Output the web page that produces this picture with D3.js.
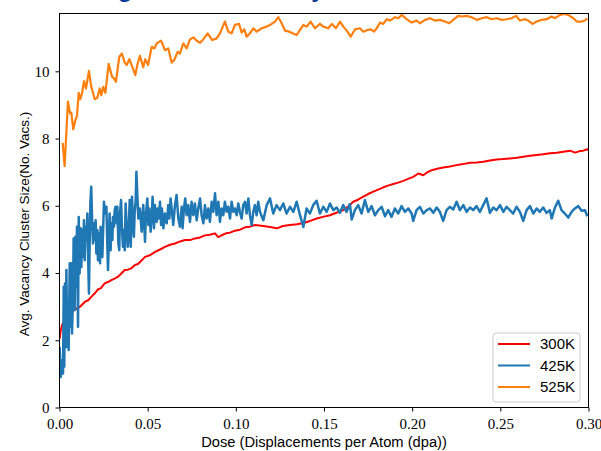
<!DOCTYPE html>
<html>
<head>
<meta charset="utf-8">
<script src="https://cdn.jsdelivr.net/npm/d3@7"></script>
<style>
  body { margin: 0; background: #fff; }
  svg { display: block; }
</style>
</head>
<body>
<svg id="chart" width="601" height="451"></svg>
<script>
// ---- data ----
const seriesNames = ["300K", "425K", "525K"];
const seriesColors = ["#ff0000", "#1f77b4", "#ff7f0e"];
const xTicks = [0, 0.05, 0.1, 0.15, 0.2, 0.25, 0.3];
const yTicks = [0, 2, 4, 6, 8, 10];

const redDose = [0.0001,0.0006,0.0014,0.0026,0.0043,0.006,0.0082,0.0115,0.0143,0.0163,0.018,0.0201,0.0218,0.0235,0.0256,0.0277,0.0294,0.0315,0.0332,0.0349,0.037,0.0388,0.0407,0.0428,0.0445,0.0462,0.0485,0.0513,0.0542,0.057,0.0598,0.0627,0.0655,0.0684,0.0712,0.074,0.0768,0.0797,0.0825,0.0853,0.0882,0.09,0.0922,0.0944,0.0967,0.0995,0.1024,0.1052,0.108,0.1109,0.1156,0.1194,0.1232,0.1267,0.1307,0.1347,0.1383,0.1421,0.1459,0.1494,0.1534,0.1574,0.161,0.1636,0.1666,0.1693,0.1723,0.175,0.178,0.1807,0.1837,0.1863,0.1893,0.192,0.195,0.1977,0.2006,0.2035,0.2063,0.2084,0.2111,0.2141,0.2176,0.2214,0.2252,0.2288,0.2328,0.2367,0.2403,0.2441,0.2479,0.2515,0.2555,0.2594,0.263,0.2668,0.2706,0.2742,0.2782,0.2821,0.2857,0.2895,0.2924,0.2946,0.297,0.2993,0.3];
const redSize = [2.05,2.25,2.45,2.55,2.7,2.8,2.9,2.99,3.14,3.19,3.29,3.4,3.51,3.55,3.69,3.74,3.79,3.84,3.89,3.98,4.09,4.1,4.14,4.24,4.27,4.36,4.48,4.53,4.63,4.7,4.78,4.84,4.88,4.94,4.98,4.98,5.03,5.06,5.12,5.14,5.18,5.07,5.13,5.18,5.2,5.26,5.29,5.36,5.38,5.43,5.4,5.37,5.33,5.4,5.43,5.45,5.49,5.55,5.62,5.67,5.72,5.8,5.87,5.98,6.12,6.18,6.27,6.35,6.42,6.48,6.55,6.6,6.65,6.69,6.74,6.8,6.86,6.96,6.91,6.99,7.06,7.1,7.14,7.17,7.21,7.24,7.28,7.29,7.31,7.35,7.38,7.39,7.41,7.43,7.46,7.49,7.51,7.53,7.56,7.58,7.61,7.64,7.58,7.62,7.64,7.68,7.66];

const blueDose = [0.0001,0.0007,0.0014,0.002,0.0024,0.0027,0.0031,0.0035,0.0039,0.0044,0.0048,0.0052,0.0058,0.0063,0.0067,0.0071,0.0077,0.008,0.0086,0.009,0.0095,0.0099,0.0105,0.0109,0.0114,0.012,0.0124,0.0128,0.0133,0.0139,0.0143,0.0148,0.0154,0.0158,0.0163,0.0167,0.0171,0.0175,0.018,0.0186,0.019,0.0196,0.0199,0.0205,0.0209,0.0215,0.0218,0.0224,0.023,0.0233,0.0239,0.0243,0.0249,0.0252,0.0258,0.0266,0.0271,0.0275,0.0281,0.0284,0.029,0.0294,0.03,0.0303,0.0309,0.0313,0.0318,0.0324,0.0328,0.0334,0.0339,0.0343,0.0349,0.0354,0.036,0.0366,0.037,0.0375,0.0381,0.0387,0.0392,0.0398,0.0404,0.0407,0.0411,0.0417,0.0422,0.0426,0.0432,0.0436,
  0.0447,0.0456,0.0466,0.0475,0.0485,0.049,0.0498,0.0504,0.0509,0.0517,0.0523,0.0528,0.0536,0.0541,0.0551,0.0557,0.0562,0.057,0.0576,0.0581,0.0589,0.0598,0.0608,0.0617,0.0623,0.063,0.0638,0.0645,0.0655,0.0664,0.0674,0.0683,0.0693,0.0698,0.0706,0.0713,0.0721,0.073,0.074,0.0749,0.0759,0.0768,0.0778,0.0787,0.0797,0.0806,0.0816,0.0825,0.0834,0.0844,0.0853,0.0863,0.0872,0.0882,0.0891,0.0901,0.091,0.0919,0.0929,0.0938,0.0948,0.0957,0.0967,0.0976,0.0986,0.0995,0.1005,0.1014,0.1023,0.1033,0.1042,0.1052,0.1061,0.1071,0.108,0.109,0.1099,0.1108,0.1118,0.1127,0.1137,
  0.1156,0.1175,0.1194,0.1212,0.1231,0.125,0.1269,0.1288,0.1307,0.1326,0.1345,0.1364,0.1383,0.1401,0.142,0.1439,0.1458,0.1477,0.1496,0.1515,0.1534,0.1553,0.1572,0.159,0.1609,0.1628,0.1647,0.1657,0.1675,0.1694,0.1713,0.1732,0.1751,0.177,0.1789,0.1808,0.1827,0.1846,0.1864,0.1883,0.1902,0.1921,0.194,0.1959,0.1978,0.1997,0.2006,0.2025,0.2044,0.2063,0.2082,0.2101,0.212,0.2139,0.2157,0.2176,0.2195,0.2214,0.2233,0.2252,0.2271,0.229,0.2309,0.2328,0.2346,0.2365,0.2384,0.2403,0.2422,0.2441,0.246,0.2479,0.2498,0.2517,0.2535,0.2554,0.2573,0.2592,0.2611,0.263,0.2649,0.2668,0.2687,0.2706,0.2724,0.2743,0.2762,0.2781,0.2791,0.281,0.2828,0.2847,0.2866,0.2885,0.2904,0.2923,0.2942,0.2961,0.298,0.2993];
const blueSize = [1.8,0.91,1.41,1.01,3.59,1.21,3.69,1.8,4.09,1.8,2.9,1.71,4.29,2.4,4.29,2.2,3.39,5.03,2.9,5.08,3.59,5.38,2.4,5.67,3.99,5.33,4.18,5.28,4.48,5.57,4.38,5.38,4.98,5.77,4.29,3.39,4.88,6.07,6.57,5.38,4.88,5.48,4.98,5.57,4.58,5.28,4.38,5.18,4.29,5.38,4.88,4.48,5.57,6.12,5.77,5.97,4.88,4.09,5.18,5.77,4.68,5.48,4.98,5.67,5.38,5.87,5.97,5.48,5.97,4.88,4.68,5.77,6.17,5.38,4.78,5.28,4.68,6.07,5.38,4.78,5.18,6.17,4.78,5.38,6.27,5.57,5.08,5.77,6.17,7.01,
  5.62,5.92,5.23,6.02,4.93,5.72,6.22,5.43,5.92,5.23,5.72,6.27,5.33,6.02,5.52,5.92,5.62,6.12,5.43,5.92,5.33,5.77,5.48,6.02,5.62,6.22,5.82,5.43,6.02,6.32,5.62,5.38,5.97,5.33,5.92,6.22,5.72,6.02,5.52,6.12,5.72,6.07,5.57,5.92,6.22,5.72,5.48,6.02,5.62,5.92,5.52,6.12,5.82,6.37,5.72,6.12,5.52,5.92,5.72,6.12,5.82,5.97,5.62,6.12,5.82,5.92,5.72,6.07,5.82,5.62,6.02,6.12,5.77,6.22,5.72,5.43,5.82,6.02,5.72,6.12,5.82,
  5.57,6.02,6.22,5.77,6.02,5.87,6.07,5.77,5.97,5.82,6.12,5.72,5.37,5.92,5.77,6.02,6.15,5.77,5.97,5.82,6.07,5.87,5.95,5.79,6.02,5.82,6.05,5.59,5.87,6.02,5.77,6.17,5.82,5.99,5.72,5.87,5.97,5.69,5.87,5.67,5.92,5.77,5.99,5.82,5.92,5.77,5.55,5.87,5.97,5.77,5.87,5.92,5.79,5.95,5.82,5.55,5.87,5.97,5.89,6.12,5.87,6.02,5.82,5.95,5.87,5.99,5.82,6.02,6.22,5.79,5.95,5.87,6.02,5.82,5.97,5.87,5.77,5.97,5.82,5.55,5.87,5.99,5.77,5.92,5.82,5.95,5.79,5.87,5.62,5.95,6.15,5.87,5.77,5.65,5.82,5.92,5.99,5.85,5.87,5.69];

const orangeDose = [0.0018,0.0029,0.0048,0.006,0.0067,0.0078,0.009,0.0099,0.0109,0.0118,0.0128,0.0139,0.015,0.0167,0.018,0.02,0.0214,0.0228,0.0237,0.0248,0.026,0.0279,0.0298,0.0309,0.032,0.0339,0.0354,0.037,0.0381,0.0396,0.0411,0.043,0.0441,0.0456,0.0475,0.0486,0.0502,0.0523,0.0538,0.0551,0.0576,0.0583,0.0598,0.0617,0.0636,0.0651,0.067,0.0683,0.0702,0.0721,0.074,0.0759,0.0778,0.0797,0.0815,0.084,0.0853,0.0866,0.0891,0.091,0.0938,0.0957,0.0976,0.0995,0.1018,0.1033,0.1048,0.1061,0.108,0.1099,
  0.1118,0.1147,0.1175,0.1203,0.1222,0.1241,0.126,0.1279,0.1303,0.1322,0.1345,0.1364,0.1383,0.1402,0.1424,0.1449,0.1477,0.1496,0.1524,0.1544,0.1568,0.1591,0.161,0.1629,0.1651,0.1676,0.1704,0.1723,0.1746,0.1765,0.1784,0.1799,0.1818,0.1836,0.1856,0.1874,0.1903,0.1921,0.1941,0.1969,0.1997,0.2026,0.2044,0.2073,0.2101,0.2129,0.2158,0.2186,0.221,0.2233,0.2261,0.2281,0.2309,0.2337,0.2366,0.2394,0.2423,0.2451,0.2479,0.2508,0.2536,0.2564,0.2589,0.2611,0.264,0.2658,0.2683,0.2706,0.2734,0.2763,0.2791,0.281,0.2838,0.2867,0.2885,0.2914,0.2933,0.2961,0.298,0.2993];
const orangeSize = [7.87,7.18,9.1,8.75,8.77,8.27,8.55,8.67,9.36,9.17,9.35,9.71,9.49,10.01,9.54,9.17,9.21,9.49,9.29,9.54,9.36,10.22,9.84,9.79,9.69,10.43,10.53,10.26,10.19,10.36,10.16,9.89,10.19,10.46,10.12,10.36,10.19,10.73,10.68,10.83,10.91,10.83,10.63,10.68,10.26,10.34,10.58,10.53,10.83,10.68,10.95,11.01,10.91,10.85,10.95,11.13,11.03,10.93,10.98,11.13,11.48,11.18,11.13,11.38,11.41,11.15,11.25,11.03,11.13,11.28,
  11.18,11.28,11.33,11.41,11.48,11.61,11.43,11.21,11.18,11.13,11.08,11.23,11.38,11.33,11.48,11.28,11.41,11.33,11.28,11.41,11.28,11.48,11.33,11.21,11.03,11.25,11.28,11.18,11.23,11.25,11.18,11.28,11.45,11.41,11.55,11.51,11.61,11.58,11.68,11.55,11.45,11.51,11.43,11.53,11.58,11.51,11.53,11.48,11.43,11.53,11.65,11.63,11.65,11.61,11.53,11.58,11.61,11.55,11.58,11.53,11.55,11.58,11.65,11.51,11.55,11.51,11.41,11.48,11.53,11.55,11.63,11.58,11.68,11.71,11.68,11.58,11.48,11.48,11.51,11.58];

// ---- layout ----
const svg = d3.select("#chart");
const plotLeft = 59.5, plotRight = 588.5, plotTop = 13.5, plotBottom = 407.5;

const x = d3.scaleLinear().domain([0, 0.3]).range([plotLeft, plotRight]);
const y = d3.scaleLinear().domain([0, 11.72]).range([plotBottom, plotTop]);

// title (mostly cut off above the figure)
svg.append("text")
	.attr("x", 52)
	.attr("y", -3)
	.attr("font-family", "Liberation Sans, Arial, sans-serif")
	.attr("font-weight", "bold")
	.attr("font-size", 24)
	.attr("fill", "#0d3a96")
	.text("Average Cluster Size by Dose");

svg.append("clipPath")
	.attr("id", "plot-clip")
	.append("rect")
	.attr("x", plotLeft)
	.attr("y", plotTop)
	.attr("width", plotRight - plotLeft)
	.attr("height", plotBottom - plotTop);

const series = [
	{ name: seriesNames[0], color: seriesColors[0], width: 2, pts: d3.zip(redDose, redSize) },
	{ name: seriesNames[1], color: seriesColors[1], width: 2.5, pts: d3.zip(blueDose, blueSize) },
	{ name: seriesNames[2], color: seriesColors[2], width: 2.2, pts: d3.zip(orangeDose, orangeSize) },
];

const line = d3
	.line()
	.x((d) => x(d[0]))
	.y((d) => y(d[1]));

const plot = svg.append("g").attr("clip-path", "url(#plot-clip)");
plot.selectAll("path")
	.data(series)
	.join("path")
	.attr("fill", "none")
	.attr("stroke", (d) => d.color)
	.attr("stroke-width", (d) => d.width)
	.attr("stroke-linejoin", "round")
	.attr("d", (d) => line(d.pts));

// axes
const tickFont = "Liberation Serif, Times New Roman, serif";
const xAxis = svg.append("g")
	.attr("transform", `translate(0,${plotBottom})`)
	.call(d3.axisBottom(x).tickValues(xTicks).tickFormat(d3.format(".2f")).tickSize(4).tickPadding(7));
const yAxis = svg.append("g")
	.attr("transform", `translate(${plotLeft},0)`)
	.call(d3.axisLeft(y).tickValues(yTicks).tickFormat(d3.format("d")).tickSize(4).tickPadding(6));
[xAxis, yAxis].forEach((a) => {
	a.select(".domain").remove();
	a.selectAll("line").attr("stroke", "#000");
	a.selectAll("text").attr("font-family", tickFont).attr("font-size", 15).attr("fill", "#000");
});

svg.append("rect")
	.attr("x", plotLeft)
	.attr("y", plotTop)
	.attr("width", plotRight - plotLeft)
	.attr("height", plotBottom - plotTop)
	.attr("fill", "none")
	.attr("stroke", "#000")
	.attr("stroke-width", 1);

// axis labels
svg.append("text")
	.attr("x", (plotLeft + plotRight) / 2)
	.attr("y", 447)
	.attr("text-anchor", "middle")
	.attr("font-family", "Liberation Sans, Arial, sans-serif")
	.attr("font-size", 14.7)
	.text("Dose (Displacements per Atom (dpa))");

svg.append("text")
	.attr("transform", "translate(29,224) rotate(-90)")
	.attr("text-anchor", "middle")
	.attr("font-family", "Liberation Sans, Arial, sans-serif")
	.attr("font-size", 13.5)
	.text("Avg. Vacancy Cluster Size(No. Vacs.)");

// legend
const legend = svg.append("g").attr("transform", "translate(493,333)");
legend.append("rect")
	.attr("width", 87)
	.attr("height", 69)
	.attr("rx", 3)
	.attr("fill", "#fff")
	.attr("fill-opacity", 0.8)
	.attr("stroke", "#cccccc");
const rows = legend.selectAll("g.row")
	.data(series)
	.join("g")
	.attr("class", "row")
	.attr("transform", (d, i) => `translate(0,${11 + i * 21.5})`);
rows.append("line")
	.attr("x1", 5)
	.attr("x2", 37)
	.attr("stroke", (d) => d.color)
	.attr("stroke-width", 2);
rows.append("text")
	.attr("x", 47)
	.attr("dy", "0.36em")
	.attr("font-family", "Liberation Sans, Arial, sans-serif")
	.attr("font-size", 15)
	.text((d) => d.name);
</script>
</body>
</html>
